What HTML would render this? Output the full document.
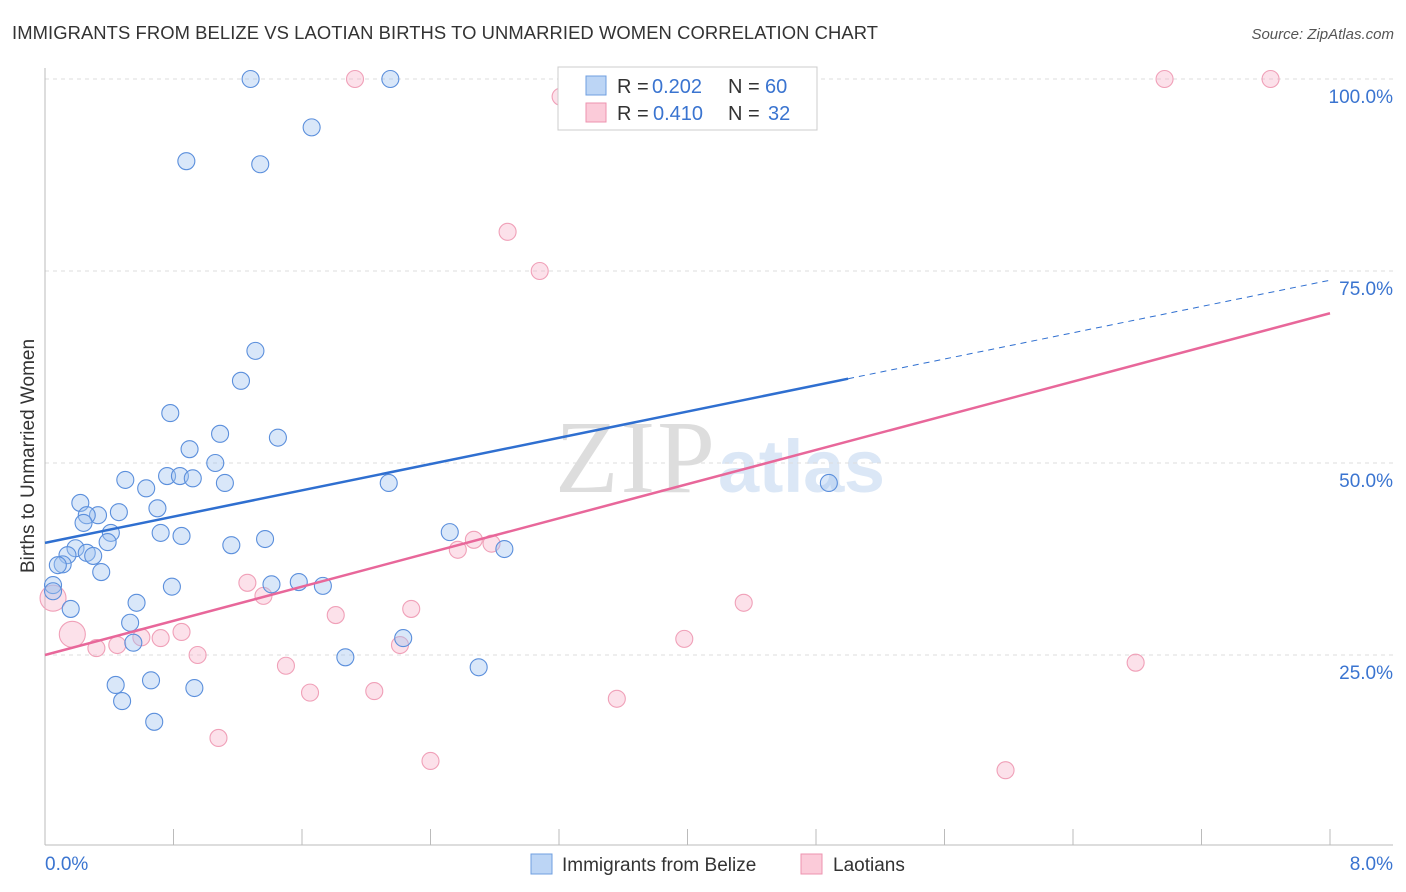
<!DOCTYPE html>
<html><head><meta charset="utf-8"><style>
body{margin:0;background:#fff;font-family:"Liberation Sans",sans-serif;}
svg{display:block}
</style></head><body>
<svg id="c" width="1406" height="892" xmlns="http://www.w3.org/2000/svg">
<text x="12" y="39" font-size="18.4" fill="#333" textLength="866">IMMIGRANTS FROM BELIZE VS LAOTIAN BIRTHS TO UNMARRIED WOMEN CORRELATION CHART</text>
<text x="1394" y="39" font-size="15" fill="#555" font-style="italic" text-anchor="end">Source: ZipAtlas.com</text>
<text x="555" y="492" font-size="104" fill="#ddd" font-family="Liberation Serif,serif" textLength="160">ZIP</text>
<text x="718" y="492" font-size="74" fill="#dbe7f6" font-weight="bold" textLength="167">atlas</text>
<g id="grid"></g><g id="axes"></g><g id="marks"></g>
<text transform="translate(34,456) rotate(-90)" font-size="19" fill="#333" text-anchor="middle">Births to Unmarried Women</text>
<text x="45" y="870" font-size="19" fill="#3a74d0">0.0%</text>
<text x="1393" y="870" font-size="19" fill="#3a74d0" text-anchor="end">8.0%</text>
<g>
<rect x="558" y="67" width="259" height="63" fill="#fff" stroke="#ccc"/>
<rect x="586" y="76" width="20" height="19" fill="#bcd5f5" stroke="#6f9fe0"/>
<rect x="586" y="103" width="20" height="19" fill="#fbcbd9" stroke="#ee93af"/>
<text x="617" y="93" font-size="20" fill="#333">R =</text><text x="652" y="93" font-size="20" fill="#3a74d0">0.202</text>
<text x="728" y="93" font-size="20" fill="#333">N =</text><text x="765" y="93" font-size="20" fill="#3a74d0">60</text>
<text x="617" y="120" font-size="20" fill="#333">R =</text><text x="653" y="120" font-size="20" fill="#3a74d0">0.410</text>
<text x="728" y="120" font-size="20" fill="#333">N =</text><text x="768" y="120" font-size="20" fill="#3a74d0">32</text>
</g>
<g>
<rect x="531" y="854" width="21" height="20" fill="#bcd5f5" stroke="#6f9fe0"/>
<text x="562" y="871" font-size="19" fill="#333">Immigrants from Belize</text>
<rect x="801" y="854" width="21" height="20" fill="#fbcbd9" stroke="#ee93af"/>
<text x="833" y="871" font-size="19" fill="#333">Laotians</text>
</g>
</svg>
<script>
const yTicks=[25,50,75,100];
const yTickLabels=["25.0%","50.0%","75.0%","100.0%"];
const xTicks=[0,0.8,1.6,2.4,3.2,4.0,4.8,5.6,6.4,7.2,8.0];
const blueX=[1.28,2.15,1.66,0.88,1.34,1.31,1.22,0.78,1.09,1.45,0.90,1.06,0.76,0.84,0.92,0.50,1.12,2.14,0.63,0.22,0.70,0.46,0.33,0.26,0.24,0.41,0.72,2.52,0.85,0.39,1.37,1.16,0.19,2.86,0.14,0.26,0.30,0.11,0.08,0.35,4.88,0.05,0.05,0.79,1.41,1.58,1.73,0.16,0.57,0.53,0.55,2.23,1.87,2.70,0.44,0.66,0.93,0.48,0.68];
const blueY=[100,100,93.7,89.3,88.9,64.6,60.7,56.5,53.8,53.3,51.8,50.0,48.3,48.3,48.0,47.8,47.4,47.4,46.7,44.8,44.1,43.6,43.2,43.2,42.2,40.9,40.9,41.0,40.5,39.7,40.1,39.3,38.9,38.8,38.0,38.3,37.9,36.8,36.7,35.8,47.4,34.1,33.3,33.9,34.2,34.5,34.0,31.0,31.8,29.2,26.6,27.2,24.7,23.4,21.1,21.7,20.7,19.0,16.3];
const pinkX=[1.93,3.21,6.97,7.63,2.88,3.08,2.67,2.78,2.57,1.26,1.36,4.35,2.28,1.81,0.05,0.17,0.60,0.72,0.85,0.32,0.45,0.95,2.21,3.98,1.50,6.79,1.65,2.05,3.56,1.08,2.40,5.98];
const pinkY=[100,97.7,100,100,80.1,75.0,40.0,39.5,38.7,34.4,32.7,31.8,31.0,30.2,32.4,27.7,27.3,27.2,28.0,25.9,26.3,25.0,26.3,27.1,23.6,24.0,20.1,20.3,19.3,14.2,11.2,10.0];
const pinkBig=[0,0,0,0,0,0,0,0,0,0,0,0,0,0,1,1,0,0,0,0,0,0,0,0,0,0,0,0,0,0,0,0];
const blueTrend=[39.6,73.8];
const pinkTrend=[25.0,69.5];
const blueSolidEnd=5.0;
const NS="http://www.w3.org/2000/svg";
const X=v=>45+v/8*1285, Y=v=>847-v/100*768;
function mk(t,a,p){const e=document.createElementNS(NS,t);for(const k in a)e.setAttribute(k,a[k]);p.appendChild(e);return e;}
const grid=document.getElementById('grid'),axes=document.getElementById('axes'),marks=document.getElementById('marks');
yTicks.forEach((t,i)=>{
 const l=mk('line',{x1:45,x2:1393,y1:Y(t),y2:Y(t),stroke:'#ddd','stroke-dasharray':'4,4'},grid);
 
 
 const tx=mk('text',{x:1393,y:Y(t)+24,'font-size':19,fill:'#3a74d0','text-anchor':'end'},axes);
 tx.textContent=yTickLabels[i];
 
 
});
const ax=mk('line',{x1:45,x2:45,y1:68,y2:845,stroke:'#bbb'},axes);


const bx=mk('line',{x1:45,x2:1393,y1:845,y2:845,stroke:'#bbb'},axes);


xTicks.forEach(t=>{
 const l=mk('line',{x1:X(t),x2:X(t),y1:829,y2:845,stroke:'#bbb'},axes);
 
 
});
pinkX.forEach((x,i)=>{
 const c=mk('circle',{cx:X(x),cy:Y(pinkY[i]),r:pinkBig[i]?13:8.5,fill:'rgba(246,170,195,0.35)',stroke:'#f0a0b8','stroke-width':1.1},marks);
 
 
});
blueX.forEach((x,i)=>{
 const c=mk('circle',{cx:X(x),cy:Y(blueY[i]),r:8.5,fill:'rgba(160,195,240,0.4)',stroke:'#5b8fdc','stroke-width':1.1},marks);
 
 
});
const by=x=>blueTrend[0]+(blueTrend[1]-blueTrend[0])*x/8;
const b1=mk('line',{x1:X(0),y1:Y(by(0)),x2:X(blueSolidEnd),y2:Y(by(blueSolidEnd)),stroke:'#2f6fd0','stroke-width':2.5},marks);


const b2=mk('line',{x1:X(blueSolidEnd),y1:Y(by(blueSolidEnd)),x2:X(8),y2:Y(by(8)),stroke:'#2f6fd0','stroke-width':1,'stroke-dasharray':'6,5'},marks);


const p1=mk('line',{x1:X(0),y1:Y(pinkTrend[0]),x2:X(8),y2:Y(pinkTrend[1]),stroke:'#e8679a','stroke-width':2.5},marks);


</script>
</body></html>
